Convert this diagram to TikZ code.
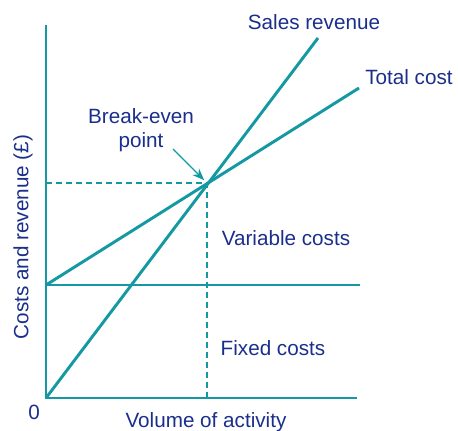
\documentclass[tikz,border=0pt]{standalone}
\usepackage{fontspec}
\setmainfont{Liberation Sans}
\usetikzlibrary{positioning,arrows.meta}
\definecolor{lineteal}{HTML}{1499A2}
\definecolor{textblue}{HTML}{1A2E8C}

\begin{document}
\begin{tikzpicture}[x=0.75pt,y=0.75pt,
  lbl/.style={text=textblue,font=\fontsize{15.5}{18.5}\selectfont,inner sep=0pt},
  axis/.style={lineteal,line width=1.5pt},
  costline/.style={lineteal,line width=2.2pt},
  guide/.style={lineteal,line width=1pt,dash pattern=on 4.5pt off 3pt}]
  \useasboundingbox (0,0) rectangle (458,430);
  \coordinate (O) at (46,32);
  \coordinate (ytop) at (46,405);
  \coordinate (xend) at (357,32);
  \coordinate (F) at (46,145);
  \coordinate (Fend) at (360,145);
  \coordinate (BE) at (207,247);
  \coordinate (BEy) at (46,247);
  \coordinate (BEx) at (207,32);
  \coordinate (Send) at (318,392);
  \coordinate (Tend) at (359,342);
  % axes
  \draw[axis] (ytop)--(O)--(xend);
  % guides to the break-even point
  \draw[guide] (BEy)--(BE)--(BEx);
  % cost and revenue lines
  \draw[costline] (F)--(Fend);
  \draw[costline] (O)--(Send);
  \draw[costline] (F)--(Tend);
  % labels
  \node[lbl] (sales) at (314,408) {Sales revenue};
  \node[lbl] (total) at (409,353) {Total cost};
  \node[lbl,align=center] (be) at (141,300) {Break-even\\point};
  \node[lbl] (var) at (286,192) {Variable costs};
  \node[lbl] (fixed) at (273,82) {Fixed costs};
  \node[lbl] (zero) at (34,18) {0};
  \node[lbl] (xlab) at (206,8) {Volume of activity};
  \node[lbl,rotate=90] (ylab) at (23,193) {Costs and revenue (\pounds)};
  \coordinate (arrstart) at (173,281);
  \draw[lineteal,line width=0.9pt,-{Stealth[length=9pt,width=7pt]},shorten >=3pt] (arrstart)--(BE);
\end{tikzpicture}
\end{document}
